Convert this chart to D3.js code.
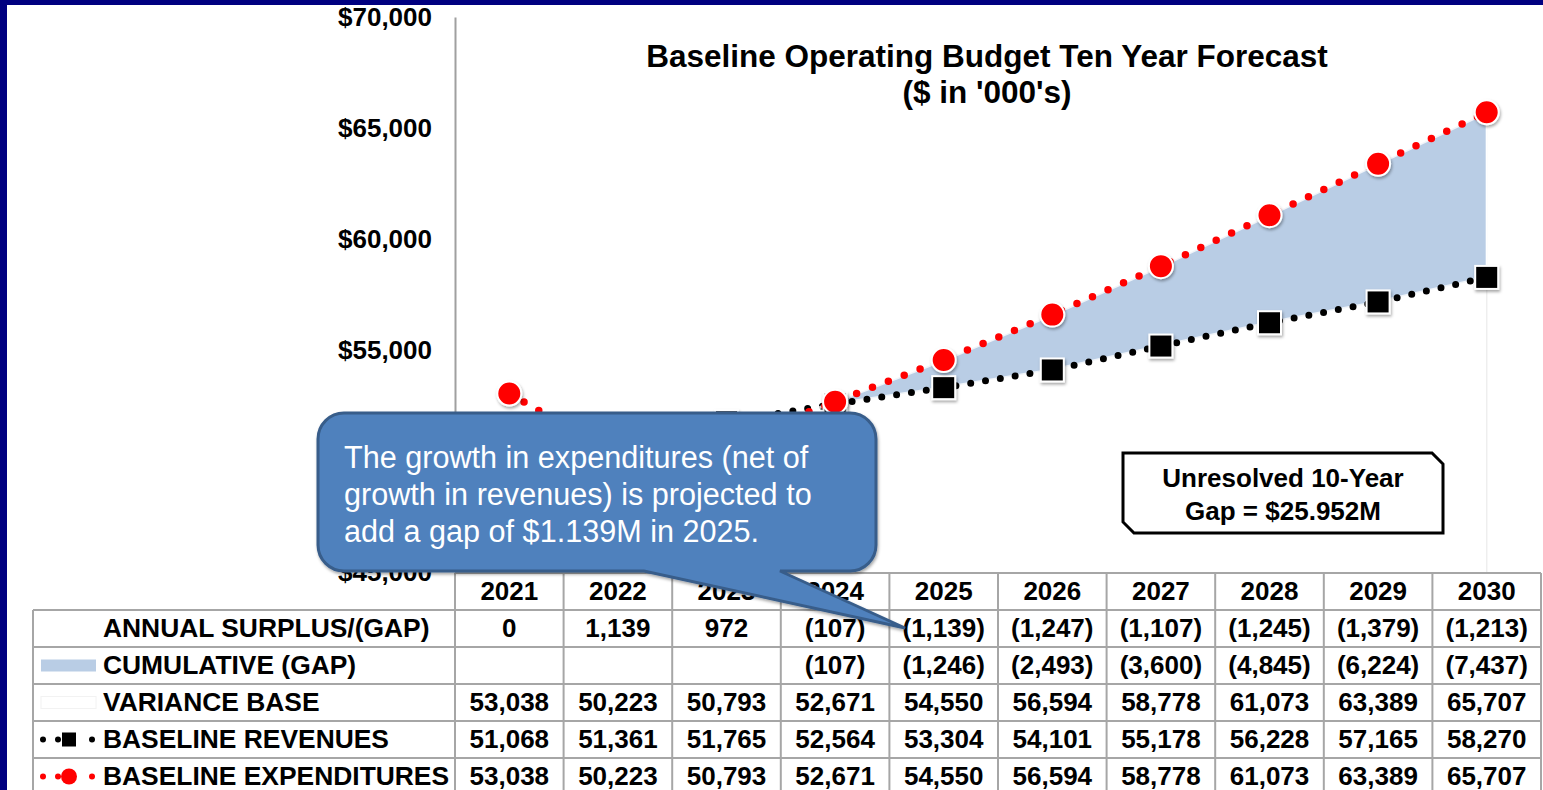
<!DOCTYPE html>
<meta charset="utf-8">
<html>
<head>
    <style>
        body { margin: 0; background: #000080; }
        svg { display: block; }
        text { font-family: Arial, "Liberation Sans", sans-serif; }
        .axis text { font-size: 26px; font-weight: bold; fill: #000; }
        .axis path { stroke: #a0a0a0; stroke-width: 2px; }
        .grid line { stroke: #a6a6a6; stroke-width: 2px; }
        .cell { font-size: 26px; font-weight: bold; }
        .label { font-size: 26.4px; font-weight: bold; }
    </style>
</head>
<body>
<svg width="1543" height="790"></svg>
<script src="https://cdnjs.cloudflare.com/ajax/libs/d3/7.8.5/d3.min.js"></script>
<script>

    var years = [2021, 2022, 2023, 2024, 2025, 2026, 2027, 2028, 2029, 2030];
    var annualGap = [0, 1139, 972, -107, -1139, -1247, -1107, -1245, -1379, -1213];
    var cumulativeGap = [null, null, null, -107, -1246, -2493, -3600, -4845, -6224, -7437];
    var varianceBase = [53038, 50223, 50793, 52671, 54550, 56594, 58778, 61073, 63389, 65707];
    var revenues = [51068, 51361, 51765, 52564, 53304, 54101, 55178, 56228, 57165, 58270];
    var expenditures = [53038, 50223, 50793, 52671, 54550, 56594, 58778, 61073, 63389, 65707];
    var yTicks = [45000, 50000, 55000, 60000, 65000, 70000];

    var svg = d3.select("svg"),
        width = +svg.attr("width"),
        height = +svg.attr("height");

    // white slide panel inside the navy frame
    svg.append("rect").attr("x", 7).attr("y", 5)
        .attr("width", width - 7).attr("height", height - 5)
        .attr("fill", "#fff");

    var defs = svg.append("defs");
    var shadow = defs.append("filter").attr("id", "shadow")
        .attr("x", "-30%").attr("y", "-30%").attr("width", "160%").attr("height", "160%");
    shadow.append("feDropShadow").attr("dx", 1).attr("dy", 2)
        .attr("stdDeviation", 1.5).attr("flood-color", "#000").attr("flood-opacity", 0.35);

    var x = d3.scaleBand().domain(years).range([455, 1541]);
    var cx = function (yr) { return x(yr) + x.bandwidth() / 2; };
    var y = d3.scaleLinear().domain([45000, 70000]).range([572, 17]);

    var rows = years.map(function (yr, i) {
        return {
            year: yr,
            rev: revenues[i],
            exp: expenditures[i],
            cum: cumulativeGap[i]
        };
    });

    // title
    var title = svg.append("text")
        .attr("text-anchor", "middle")
        .attr("font-size", 31.5).attr("font-weight", "bold");
    title.append("tspan").attr("x", 987).attr("y", 67).text("Baseline Operating Budget Ten Year Forecast");
    title.append("tspan").attr("x", 987).attr("y", 103).text("($ in '000's)");

    // y axis
    svg.append("g")
        .attr("class", "axis")
        .attr("transform", "translate(455,0)")
        .call(d3.axisLeft(y)
            .tickValues(yTicks)
            .tickSize(0)
            .tickPadding(23)
            .tickFormat(function (d) { return "$" + d3.format(",")(d); }));

    // faint guide at the last category
    svg.append("line")
        .attr("x1", cx(2030)).attr("x2", cx(2030))
        .attr("y1", y(65707)).attr("y2", 572)
        .attr("stroke", "#eeeeee").attr("stroke-width", 1.5);

    // cumulative gap area (revenues up to revenues + gap)
    var gapRows = rows.filter(function (d) { return d.cum !== null; });
    svg.append("path")
        .datum(gapRows)
        .attr("fill", "#b9cde5")
        .attr("d", d3.area()
            .x(function (d) { return cx(d.year); })
            .y0(function (d) { return y(d.rev); })
            .y1(function (d) { return y(d.rev - d.cum); }));

    svg.append("line")
        .attr("x1", cx(2030)).attr("x2", cx(2030))
        .attr("y1", y(revenues[9])).attr("y2", y(revenues[9] - cumulativeGap[9]))
        .attr("stroke", "#fff").attr("stroke-width", 2);

    function dotted(key, color, w, gap) {
        var line = d3.line()
            .x(function (d) { return cx(d.year); })
            .y(function (d) { return y(d[key]); });
        svg.append("path").datum(rows)
            .attr("fill", "none").attr("stroke", "#fff").attr("stroke-opacity", 0.8)
            .attr("stroke-width", 3).attr("d", line);
        svg.append("path").datum(rows)
            .attr("fill", "none")
            .attr("stroke", color)
            .attr("stroke-width", w)
            .attr("stroke-linecap", "round")
            .attr("stroke-dasharray", "0 " + gap)
            .attr("d", line);
    }

    dotted("rev", "#000", 7, 15);
    dotted("exp", "#ff0000", 7.5, 17);

    svg.append("g").selectAll("rect")
        .data(rows).enter().append("rect")
        .attr("x", function (d) { return cx(d.year) - 11.5; })
        .attr("y", function (d) { return y(d.rev) - 11.5; })
        .attr("width", 23).attr("height", 23)
        .attr("fill", "#000").attr("stroke", "#fff").attr("stroke-width", 2)
        .attr("filter", "url(#shadow)");

    svg.append("g").selectAll("circle")
        .data(rows).enter().append("circle")
        .attr("cx", function (d) { return cx(d.year); })
        .attr("cy", function (d) { return y(d.exp); })
        .attr("r", 12)
        .attr("fill", "#ff0000").attr("stroke", "#fff").attr("stroke-width", 2)
        .attr("filter", "url(#shadow)");

    // data table
    var rowTop = 573, rowH = 37;
    var fmt = d3.format(",");
    function acct(v) {
        if (v === null) return "";
        return v < 0 ? "(" + fmt(-v) + ")" : fmt(v);
    }
    var tableRows = [
        { label: "ANNUAL SURPLUS/(GAP)", values: annualGap, key: "none" },
        { label: "CUMULATIVE (GAP)", values: cumulativeGap, key: "area" },
        { label: "VARIANCE BASE", values: varianceBase, key: "base" },
        { label: "BASELINE REVENUES", values: revenues, key: "rev" },
        { label: "BASELINE EXPENDITURES", values: expenditures, key: "exp" }
    ];

    var grid = svg.append("g").attr("class", "grid");
    // header row lines
    grid.append("line").attr("x1", 455).attr("x2", 1541).attr("y1", rowTop).attr("y2", rowTop);
    d3.range(tableRows.length + 1).forEach(function (i) {
        var yy = rowTop + rowH * (i + 1);
        grid.append("line").attr("x1", 33).attr("x2", 1541).attr("y1", yy).attr("y2", yy);
    });
    grid.append("line").attr("x1", 33).attr("x2", 33).attr("y1", rowTop + rowH).attr("y2", height);
    x.domain().forEach(function (yr) {
        grid.append("line").attr("x1", x(yr)).attr("x2", x(yr)).attr("y1", rowTop).attr("y2", height);
    });
    grid.append("line").attr("x1", 1541).attr("x2", 1541).attr("y1", rowTop).attr("y2", height);

    svg.append("g").selectAll("text")
        .data(years).enter().append("text")
        .attr("class", "cell")
        .attr("text-anchor", "middle")
        .attr("x", cx)
        .attr("y", rowTop + rowH / 2)
        .attr("dy", "0.33em")
        .text(function (d) { return d; });

    tableRows.forEach(function (r, i) {
        var yc = rowTop + rowH * (i + 1.5);
        svg.append("text").attr("class", "label")
            .attr("x", 103).attr("y", yc).attr("dy", "0.33em")
            .text(r.label);
        svg.append("g").selectAll("text")
            .data(r.values).enter().append("text")
            .attr("class", "cell")
            .attr("text-anchor", "middle")
            .attr("x", function (d, j) { return cx(years[j]); })
            .attr("y", yc).attr("dy", "0.33em")
            .text(acct);

        // legend keys
        var g = svg.append("g").attr("transform", "translate(0," + yc + ")");
        if (r.key === "area") {
            g.append("rect").attr("x", 41).attr("y", -6).attr("width", 55).attr("height", 12).attr("fill", "#b9cde5");
        } else if (r.key === "base") {
            g.append("rect").attr("x", 41).attr("y", -6).attr("width", 55).attr("height", 12)
                .attr("fill", "#fff").attr("stroke", "#f2f2f2");
        } else if (r.key === "rev" || r.key === "exp") {
            var c = r.key === "rev" ? "#000" : "#ff0000";
            [43, 58, 92].forEach(function (dx) {
                g.append("circle").attr("cx", dx).attr("cy", 0).attr("r", 3).attr("fill", c);
            });
            if (r.key === "rev") {
                g.append("rect").attr("x", 62).attr("y", -7).attr("width", 14).attr("height", 14).attr("fill", c);
            } else {
                g.append("circle").attr("cx", 69).attr("cy", 0).attr("r", 8).attr("fill", c);
            }
        }
    });

    // unresolved gap box
    svg.append("path")
        .attr("d", "M1123,453 H1432 L1443,464 V533 H1134 L1123,522 Z")
        .attr("fill", "#fff").attr("stroke", "#000").attr("stroke-width", 3);
    var box = svg.append("text").attr("text-anchor", "middle")
        .attr("font-size", 26).attr("font-weight", "bold");
    box.append("tspan").attr("x", 1283).attr("y", 487).text("Unresolved 10-Year");
    box.append("tspan").attr("x", 1283).attr("y", 520).text("Gap = $25.952M");

    // callout
    svg.append("path")
        .attr("d", "M344,413 H850 A26,26 0 0 1 876,439 V545 A26,26 0 0 1 850,571 H780 L905,628 L644,571 H344 A26,26 0 0 1 318,545 V439 A26,26 0 0 1 344,413 Z")
        .attr("fill", "#4f81bd").attr("stroke", "#385d8a").attr("stroke-width", 3)
        .attr("filter", "url(#shadow)");
    var note = svg.append("text").attr("font-size", 30.6).attr("fill", "#fff");
    ["The growth in expenditures (net of",
     "growth in revenues) is projected to",
     "add a gap of $1.139M in 2025."].forEach(function (t, i) {
        note.append("tspan").attr("x", 344).attr("y", 468 + i * 37).text(t);
    });

</script>
</body>
</html>
